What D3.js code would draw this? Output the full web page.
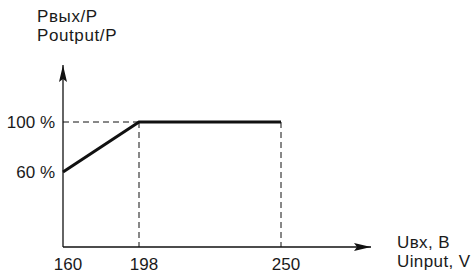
<!DOCTYPE html>
<html>
<head>
<meta charset="utf-8">
<script src="https://cdn.jsdelivr.net/npm/d3@7"></script>
<style>
  body { margin: 0; background: white; }
  text { font-family: "Liberation Sans", Arial, sans-serif; fill: #1a1a1a; }
</style>
</head>
<body>
<script>
// data
const voltages = [160, 198, 250];
const powerPct = [60, 100, 100];
const xTicks = [160, 198, 250];
const yTicks = [60, 100];
const yLabelLines = ["Рвых/Р", "Poutput/P"];
const xLabelLines = ["Uвх, В", "Uinput, V"];

const width = 474, height = 275;
const svg = d3.select("body").append("svg")
    .attr("width", width).attr("height", height);

// x axis is not to scale in the original, so piecewise mapping
const xScale = d3.scaleLinear().domain([160, 198, 250]).range([63, 139, 281]);
const yScale = d3.scaleLinear().domain([0, 100]).range([247, 122]);

const x0 = xScale(160), y0 = yScale(0);

// arrow heads
const defs = svg.append("defs");
defs.append("marker").attr("id", "arrow")
    .attr("viewBox", "0 0 17 8").attr("refX", 17).attr("refY", 4)
    .attr("markerWidth", 17).attr("markerHeight", 8)
    .attr("markerUnits", "userSpaceOnUse").attr("orient", "auto")
    .append("path").attr("d", "M0,0 L17,4 L0,8 L3,4 Z").attr("fill", "#111");

// axes
svg.append("line")
    .attr("x1", x0).attr("y1", y0).attr("x2", x0).attr("y2", 65)
    .attr("stroke", "#111").attr("stroke-width", 1.3).attr("marker-end", "url(#arrow)");
svg.append("line")
    .attr("x1", x0).attr("y1", y0).attr("x2", 371).attr("y2", y0)
    .attr("stroke", "#111").attr("stroke-width", 1.3).attr("marker-end", "url(#arrow)");

// dashed guides
const dash = "6,4";
svg.append("line")
    .attr("x1", x0).attr("x2", xScale(198))
    .attr("y1", yScale(100)).attr("y2", yScale(100))
    .attr("stroke", "#111").attr("stroke-width", 1).attr("stroke-dasharray", dash);
svg.selectAll("line.vguide").data([198, 250]).join("line")
    .attr("class", "vguide")
    .attr("x1", d => xScale(d)).attr("x2", d => xScale(d))
    .attr("y1", yScale(100)).attr("y2", y0)
    .attr("stroke", "#111").attr("stroke-width", 1).attr("stroke-dasharray", dash);

// main curve
const line = d3.line().x(d => xScale(d[0])).y(d => yScale(d[1]));
svg.append("path")
    .datum(voltages.map((v, i) => [v, powerPct[i]]))
    .attr("d", line)
    .attr("fill", "none").attr("stroke", "#111").attr("stroke-width", 3);

// tick labels
svg.selectAll("text.xt").data(xTicks).join("text")
    .attr("class", "xt")
    .attr("x", d => xScale(d) + 5).attr("y", 270)
    .attr("text-anchor", "middle").attr("font-size", 17)
    .text(d => d);
svg.selectAll("text.yt").data(yTicks).join("text")
    .attr("class", "yt")
    .attr("x", 55).attr("y", d => yScale(d) + 6)
    .attr("text-anchor", "end").attr("font-size", 17)
    .text(d => d + " %");

// axis titles
svg.selectAll("text.yl").data(yLabelLines).join("text")
    .attr("class", "yl")
    .attr("x", 37).attr("y", (d, i) => 21.5 + i * 19.5)
    .attr("font-size", 17).attr("letter-spacing", 0.6)
    .text(d => d);
svg.selectAll("text.xl").data(xLabelLines).join("text")
    .attr("class", "xl")
    .attr("x", 397).attr("y", (d, i) => 248 + i * 19)
    .attr("font-size", 17).attr("letter-spacing", 0.4)
    .text(d => d);
</script>
</body>
</html>
